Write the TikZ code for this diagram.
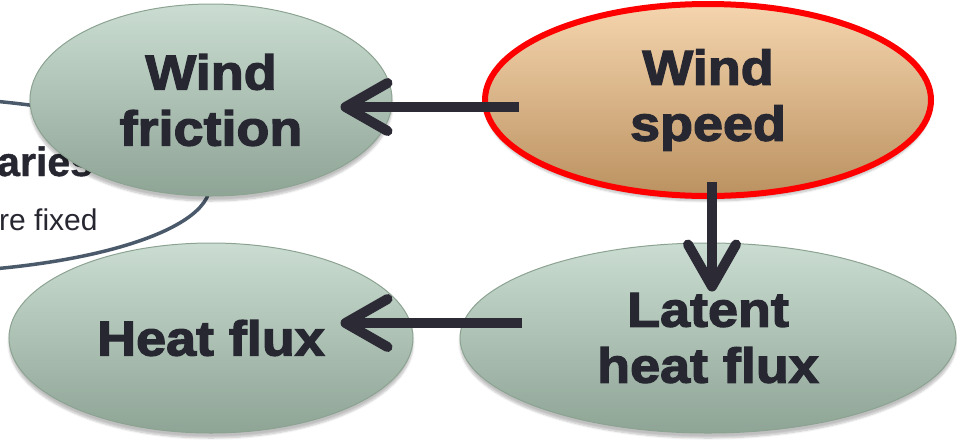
\documentclass[tikz,border=0pt]{standalone}
\usepackage{fontspec}
\setmainfont{Liberation Sans}
\newfontfamily\heavy{Liberation Sans Bold}[FakeStretch=1.1,FakeBold=2.6]
\newfontfamily\plainsans{Liberation Sans}
\newfontfamily\boldsans{Liberation Sans Bold}[FakeBold=1]
\usetikzlibrary{shapes.geometric,arrows.meta,shadows.blur}
\definecolor{txt}{HTML}{272731}
\definecolor{arrc}{HTML}{2B2A35}
\definecolor{gtop}{HTML}{CBDDD2}
\definecolor{gbot}{HTML}{8EA495}
\definecolor{gborder}{HTML}{8CA392}
\definecolor{otop}{HTML}{F5D5AE}
\definecolor{obot}{HTML}{BB9160}
\definecolor{curvec}{HTML}{4B5A6B}
\tikzset{
  bubble/.style={ellipse, inner sep=0pt, draw=gborder, line width=1pt,
    top color=gtop, bottom color=gbot, text=txt, align=center,
    font=\heavy\fontsize{49}{56}\selectfont,
    blur shadow={shadow xshift=0pt, shadow yshift=-5pt, shadow blur steps=6, shadow opacity=25}},
  hot/.style={bubble, draw=red, line width=6pt, top color=otop, bottom color=obot},
  arr/.style={draw=arrc, line width=10pt, -{Straight Barb[length=42pt,width=48pt,round]}},
}
\begin{document}
\begin{tikzpicture}[x=1pt,y=-1pt]
\useasboundingbox (0,0) rectangle (957,440);
\clip (0,0) rectangle (957,440);
% background partial shape
\draw[curvec, line width=3.5pt] (-100,185) ellipse [x radius=310, y radius=88];
\node[anchor=base west, inner sep=0pt, text=txt, font=\boldsans\fontsize{41}{44}\selectfont] (bt) at (-3,176) {aries};
\node[anchor=base west, inner sep=0pt, text=txt, font=\plainsans\fontsize{30}{34}\selectfont] (st) at (-1,230) {re fixed};
% bubbles
\node[bubble, minimum width=362pt, minimum height=192pt] (wf) at (211,100) {Wind\\friction};
\node[hot, minimum width=446pt, minimum height=192pt] (ws) at (708,100) {Wind\\speed};
\node[bubble, minimum width=404pt, minimum height=190pt] (hf) at (211,338) {Heat flux};
\node[bubble, minimum width=496pt, minimum height=190pt] (lh) at (708,338) {Latent\\heat flux};
% arrows
\draw[arr] ([xshift=37pt,yshift=-7pt]ws.west) -- ([xshift=-52pt,yshift=-7pt]wf.east);
\draw[arr] ([xshift=4pt,yshift=17pt]ws.south) -- ([xshift=4pt,yshift=-49pt]lh.north);
\draw[arr] ([xshift=62pt,yshift=15pt]lh.west) -- ([xshift=-73pt,yshift=15pt]hf.east);
\end{tikzpicture}
\end{document}
